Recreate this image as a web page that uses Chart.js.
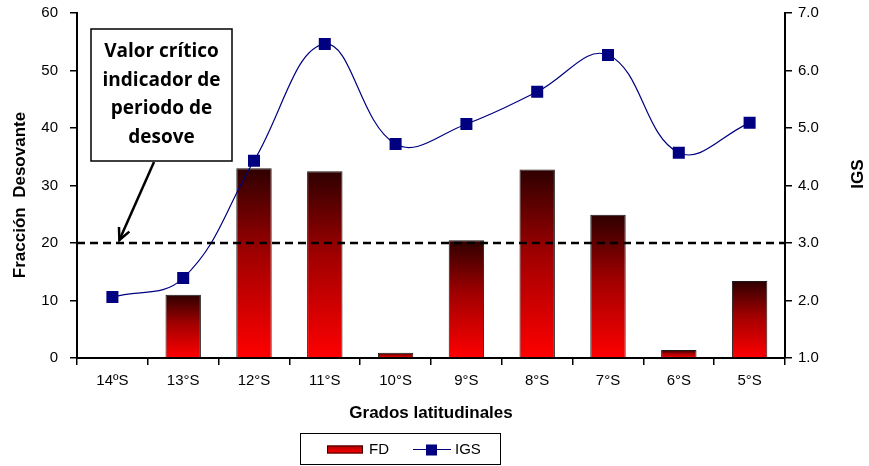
<!DOCTYPE html>
<html>
<head>
<meta charset="utf-8">
<script src="https://cdn.jsdelivr.net/npm/chart.js@4.4.1/dist/chart.umd.min.js"></script>
<style>
  html, body { margin: 0; padding: 0; background: #fff; }
  #wrap { width: 869px; height: 466px; position: relative; }
</style>
</head>
<body>
<div id="wrap"><canvas id="chart"></canvas></div>
<script>
// chart data
const latitudes = ['14ºS', '13°S', '12°S', '11°S', '10°S', '9°S', '8°S', '7°S', '6°S', '5°S'];
const fdValues = [0, 11.0, 33.0, 32.5, 0.9, 20.5, 32.8, 24.9, 1.4, 13.4];
const igsValues = [2.06, 2.39, 4.43, 6.46, 4.72, 5.07, 5.63, 6.27, 4.57, 5.09];
const criticalValue = 20;
const noteLines = ['Valor crítico', 'indicador de', 'periodo de', 'desove'];

const FONT = "'Liberation Sans', Arial, sans-serif";

// vertical gradient for each bar, dark at the top and red at the bottom
function barGradient(context) {
    const chart = context.chart;
    const yScale = chart.scales.y;
    if (!yScale || context.parsed === undefined) return '#ff0000';
    const top = yScale.getPixelForValue(context.parsed.y);
    const bottom = yScale.getPixelForValue(0);
    if (!isFinite(top) || bottom - top < 1) return '#ff0000';
    const g = chart.ctx.createLinearGradient(0, top, 0, bottom);
    g.addColorStop(0, '#2e0000');
    g.addColorStop(0.45, '#a00000');
    g.addColorStop(1, '#ff0000');
    return g;
}

// fix the vertical axes so the plot area spans the same rows as the original
function fitVertical(width) {
    return (s) => {
        s.width = width;
        s.paddingTop = 0;
        s.paddingBottom = 0;
    };
}

// rotated axis title
function sideTitle(ctx, text, x, y) {
    ctx.save();
    ctx.translate(x, y);
    ctx.rotate(-Math.PI / 2);
    ctx.fillStyle = '#000';
    ctx.font = 'bold 17px ' + FONT;
    ctx.textAlign = 'center';
    ctx.textBaseline = 'middle';
    ctx.fillText(text, 0, 0);
    ctx.restore();
}

// critical line, note box with arrow, axis titles and legend
const extrasPlugin = {
    id: 'extras',
    afterDatasetsDraw(chart) {
        const { ctx, chartArea, scales } = chart;
        const yc = scales.y.getPixelForValue(criticalValue);
        ctx.save();
        ctx.strokeStyle = '#000';
        ctx.lineWidth = 2.5;
        ctx.setLineDash([8, 5]);
        ctx.beginPath();
        ctx.moveTo(chartArea.left, yc);
        ctx.lineTo(chartArea.right, yc);
        ctx.stroke();
        ctx.restore();
    },
    afterDraw(chart) {
        const { ctx, scales } = chart;
        ctx.save();

        // note box
        const bx = 91, by = 29, bw = 141, bh = 132;
        ctx.fillStyle = '#fff';
        ctx.fillRect(bx, by, bw, bh);
        ctx.strokeStyle = '#000';
        ctx.lineWidth = 1.5;
        ctx.strokeRect(bx, by, bw, bh);
        ctx.fillStyle = '#000';
        ctx.font = "bold 19px 'Open Sans', 'DejaVu Sans', sans-serif";
        ctx.textAlign = 'center';
        ctx.textBaseline = 'middle';
        noteLines.forEach((t, i) => ctx.fillText(t, bx + bw / 2, by + 23 + i * 28.5));

        // arrow to the critical line
        const tipX = scales.x.getPixelForValue(0) + 7;
        const tipY = scales.y.getPixelForValue(criticalValue) - 3;
        const sx = 154, sy = by + bh + 1;
        ctx.lineWidth = 2.5;
        ctx.beginPath();
        ctx.moveTo(sx, sy);
        ctx.lineTo(tipX, tipY);
        ctx.stroke();
        const ang = Math.atan2(tipY - sy, tipX - sx);
        ctx.beginPath();
        ctx.moveTo(tipX - 13 * Math.cos(ang - 0.45), tipY - 13 * Math.sin(ang - 0.45));
        ctx.lineTo(tipX, tipY);
        ctx.lineTo(tipX - 13 * Math.cos(ang + 0.45), tipY - 13 * Math.sin(ang + 0.45));
        ctx.stroke();

        // axis titles
        sideTitle(ctx, 'Fracción  Desovante', 20, 195);
        sideTitle(ctx, 'IGS', 858, 174);

        // legend
        const lx = 300, ly = 433, lw = 200, lh = 31;
        ctx.lineWidth = 1;
        ctx.strokeStyle = '#000';
        ctx.strokeRect(lx + 0.5, ly + 0.5, lw, lh);
        const my = ly + lh / 2 + 1;
        const sw = ctx.createLinearGradient(0, my - 4, 0, my + 4);
        sw.addColorStop(0, '#b00000');
        sw.addColorStop(1, '#ff0000');
        ctx.fillStyle = sw;
        ctx.fillRect(327, my - 4, 36, 8);
        ctx.strokeStyle = '#300';
        ctx.strokeRect(327.5, my - 3.5, 35, 7);
        ctx.fillStyle = '#000';
        ctx.font = '15px ' + FONT;
        ctx.textAlign = 'left';
        ctx.textBaseline = 'middle';
        ctx.fillText(chart.data.datasets[1].label, 369, my);
        ctx.strokeStyle = '#000080';
        ctx.lineWidth = 1.2;
        ctx.beginPath();
        ctx.moveTo(413, my);
        ctx.lineTo(451, my);
        ctx.stroke();
        ctx.fillStyle = '#000080';
        ctx.fillRect(426, my - 5, 11, 11);
        ctx.fillStyle = '#000';
        ctx.fillText(chart.data.datasets[0].label, 455, my);

        ctx.restore();
    }
};

const ctx = document.getElementById('chart').getContext('2d');
new Chart(ctx, {
    type: 'bar',
    data: {
        labels: latitudes,
        datasets: [
            {
                type: 'line',
                label: 'IGS',
                data: igsValues,
                yAxisID: 'y1',
                borderColor: '#000080',
                borderWidth: 1.2,
                backgroundColor: '#000080',
                pointStyle: 'rect',
                pointRadius: 8.5,
                pointBorderWidth: 0,
                tension: 0.4,
                order: 0,
            },
            {
                type: 'bar',
                label: 'FD',
                data: fdValues,
                yAxisID: 'y',
                backgroundColor: barGradient,
                borderColor: '#1a1a1a',
                borderWidth: 1,
                categoryPercentage: 1,
                barPercentage: 0.5,
                order: 1,
            },
        ],
    },
    options: {
        responsive: true,
        maintainAspectRatio: false,
        animation: false,
        layout: { padding: { top: 13, left: 0, right: 0, bottom: 38 } },
        plugins: {
            legend: { display: false },
            tooltip: { enabled: false },
        },
        scales: {
            x: {
                offset: true,
                grid: { offset: true, drawOnChartArea: false, drawTicks: true, tickLength: 7, color: '#000', lineWidth: 1.5 },
                border: { display: true, color: '#000', width: 2 },
                ticks: { color: '#000', font: { family: FONT, size: 15 }, padding: 7, maxRotation: 0 },
                title: { display: true, text: 'Grados latitudinales', color: '#000', font: { family: FONT, size: 17, weight: 'bold' }, padding: { top: 10 } },
                afterFit: (s) => { s.height = 70; s.paddingLeft = 0; s.paddingRight = 0; },
            },
            y: {
                position: 'left',
                min: 0, max: 60,
                ticks: { stepSize: 10, color: '#000', font: { family: FONT, size: 15 }, padding: 12 },
                grid: { drawOnChartArea: false, drawTicks: true, tickLength: 7, color: '#000', lineWidth: 1.5 },
                border: { display: true, color: '#000', width: 2 },
                afterFit: fitVertical(77),
            },
            y1: {
                position: 'right',
                min: 1, max: 7,
                ticks: { stepSize: 1, color: '#000', font: { family: FONT, size: 15 }, padding: 6, callback: (v) => v.toFixed(1) },
                grid: { drawOnChartArea: false, drawTicks: true, tickLength: 7, color: '#000', lineWidth: 1.5 },
                border: { display: true, color: '#000', width: 2 },
                afterFit: fitVertical(84),
            },
        },
    },
    plugins: [extrasPlugin],
});
</script>
</body>
</html>
